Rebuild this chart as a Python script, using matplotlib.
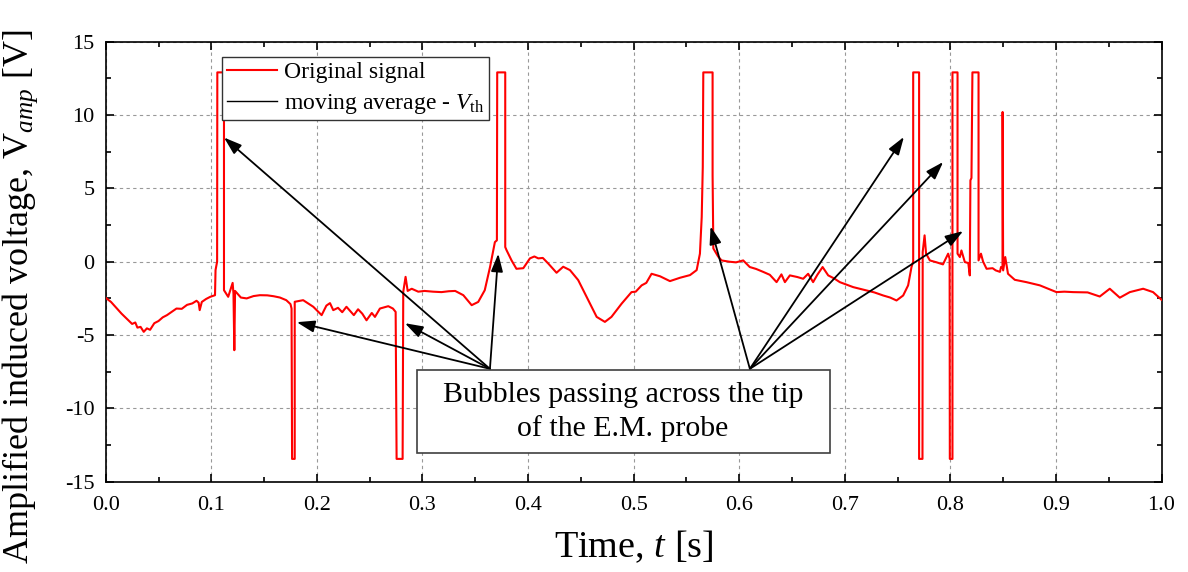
import matplotlib
matplotlib.use("Agg")
import matplotlib.pyplot as plt
from matplotlib.lines import Line2D
from matplotlib.patches import Rectangle
from matplotlib.ticker import MultipleLocator

plt.rcParams['font.family'] = ['Liberation Serif', 'DejaVu Serif']
plt.rcParams['mathtext.fontset'] = 'custom'
plt.rcParams['mathtext.rm'] = 'Liberation Serif'
plt.rcParams['mathtext.it'] = 'Liberation Serif:italic'
plt.rcParams['axes.unicode_minus'] = False

# probe signal, time [s] and amplified voltage [V]
t = [0.000, 0.005, 0.010, 0.015, 0.020, 0.025, 0.028, 0.030, 0.033, 0.036,
     0.039, 0.042, 0.046, 0.050, 0.054, 0.058, 0.062, 0.067, 0.072, 0.077,
     0.082, 0.086, 0.088, 0.089, 0.091, 0.095, 0.099, 0.1035, 0.1040, 0.1055,
     0.1057, 0.1120, 0.1120, 0.1160, 0.1202, 0.1210, 0.1218, 0.1225, 0.1280, 0.1335,
     0.1400, 0.1460, 0.1530, 0.1590, 0.1650, 0.1710, 0.1750, 0.1760, 0.1765, 0.1790,
     0.1790, 0.1870, 0.1966, 0.2045, 0.2090, 0.2124, 0.2155, 0.2200, 0.2240, 0.2280,
     0.2350, 0.2390, 0.2430, 0.2470, 0.2520, 0.2550, 0.2597, 0.2676, 0.2720, 0.2746,
     0.2750, 0.2755, 0.2812, 0.2818, 0.2840, 0.2860, 0.2898, 0.2960, 0.3020, 0.3100,
     0.3180, 0.3250, 0.3310, 0.3387, 0.3466, 0.3528, 0.3590, 0.3640, 0.3686, 0.3705,
     0.3708, 0.3784, 0.3784, 0.3797, 0.3844, 0.3890, 0.3955, 0.4018, 0.4060, 0.4097,
     0.4140, 0.4190, 0.4270, 0.4333, 0.4397, 0.4475, 0.4570, 0.4650, 0.4728, 0.4790,
     0.4886, 0.4980, 0.5020, 0.5076, 0.5120, 0.5170, 0.5250, 0.5344, 0.5440, 0.5534,
     0.5597, 0.5628, 0.5645, 0.5655, 0.5660, 0.5748, 0.5748, 0.5755, 0.5800, 0.5833,
     0.5910, 0.5970, 0.6038, 0.6100, 0.6160, 0.6227, 0.6290, 0.6354, 0.6400, 0.6433,
     0.6480, 0.6550, 0.6606, 0.6653, 0.6700, 0.6740, 0.6790, 0.6843, 0.6900, 0.6953,
     0.7080, 0.7206, 0.7280, 0.7364, 0.7430, 0.7490, 0.7553, 0.7600, 0.7632, 0.7648,
     0.7648, 0.7704, 0.7704, 0.7736, 0.7738, 0.7756, 0.7770, 0.7806, 0.7870, 0.7930,
     0.7979, 0.7993, 0.7995, 0.8020, 0.8020, 0.8068, 0.8068, 0.8090, 0.8105, 0.8137,
     0.8170, 0.8184, 0.8190, 0.8200, 0.8209, 0.8267, 0.8267, 0.8290, 0.8310, 0.8343,
     0.8400, 0.8430, 0.8470, 0.8480, 0.8494, 0.8495, 0.8500, 0.8520, 0.8546, 0.8610,
     0.8720, 0.8848, 0.8926, 0.9005, 0.9080, 0.9163, 0.9300, 0.9415, 0.9510, 0.9605,
     0.9700, 0.9826, 0.9920, 1.0000]
v = [-2.47, -2.75, -3.15, -3.55, -3.90, -4.25, -4.15, -4.50, -4.45, -4.79,
     -4.55, -4.65, -4.20, -4.05, -3.80, -3.65, -3.45, -3.20, -3.22, -2.95,
     -2.85, -2.67, -2.80, -3.31, -2.75, -2.55, -2.40, -2.29, -0.58, 0.00,
     12.9, 12.9, -1.95, -2.40, -1.45, -2.20, -6.04, -2.00, -2.45, -2.51,
     -2.35, -2.29, -2.30, -2.36, -2.45, -2.63, -2.90, -3.20, -13.45, -13.45,
     -2.74, -2.63, -3.08, -3.65, -3.00, -2.83, -3.31, -3.15, -3.45, -3.08,
     -3.65, -3.25, -3.55, -4.00, -3.50, -3.77, -3.20, -3.04, -3.20, -3.43,
     -8.10, -13.45, -13.45, -2.06, -1.04, -2.00, -1.85, -2.05, -2.00, -2.05,
     -2.08, -2.02, -2.00, -2.29, -2.97, -2.75, -1.95, -0.37, 1.33, 1.45,
     12.9, 12.9, 0.99, 0.77, 0.08, -0.49, -0.45, 0.22, 0.35, 0.22,
     0.25, -0.12, -0.76, -0.35, -0.58, -1.26, -2.63, -3.77, -4.11, -3.77,
     -2.87, -2.08, -2.05, -1.62, -1.45, -0.83, -1.00, -1.33, -1.10, -0.92,
     -0.58, 0.54, 3.04, 6.45, 12.9, 12.9, 5.88, 0.90, 0.35, 0.08,
     -0.01, -0.05, 0.08, -0.37, -0.50, -0.70, -0.90, -1.40, -0.87, -1.40,
     -0.94, -1.05, -1.17, -0.83, -1.40, -0.90, -0.37, -0.94, -1.15, -1.40,
     -1.74, -1.97, -2.10, -2.31, -2.45, -2.65, -2.31, -1.62, -0.37, 0.00,
     12.9, 12.9, -13.45, -13.45, 0.65, 1.79, 0.54, 0.08, -0.05, -0.19,
     0.54, 0.20, -13.45, -13.45, 12.9, 12.9, 0.54, 0.31, 0.76, -0.03,
     -0.10, -0.94, 5.54, 5.70, 12.9, 12.9, 0.08, 0.54, 0.00, -0.49,
     -0.45, -0.60, -0.70, -0.37, -0.45, 10.2, -0.60, 0.31, -0.83, -1.24,
     -1.40, -1.62, -1.85, -2.08, -2.05, -2.08, -2.10, -2.38, -1.85, -2.46,
     -2.08, -1.85, -2.08, -2.60]

# arrow tails (label box) and heads pointing at the bubble events
left_tail = (0.3639, -7.31)
left_heads = [(0.112, 8.46), (0.1809, -4.13), (0.2834, -4.2), (0.3718, 0.54)]
right_tail = (0.6101, -7.31)
right_heads = [(0.5729, 2.4), (0.756, 8.5), (0.7932, 6.79), (0.8121, 2.08)]

fig = plt.figure(figsize=(11.88, 5.72), dpi=100)
ax = fig.add_axes([0.089, 0.158, 0.8887, 0.7693])

ax.plot(t, v, color='red', lw=1.5, zorder=3)

ax.set_xlim(0, 1)
ax.set_ylim(-15, 15)
ax.xaxis.set_major_locator(MultipleLocator(0.1))
ax.xaxis.set_minor_locator(MultipleLocator(0.05))
ax.yaxis.set_major_locator(MultipleLocator(5))
ax.yaxis.set_minor_locator(MultipleLocator(2.5))
ax.xaxis.set_major_formatter(lambda x, pos: f'{x:.1f}')
ax.tick_params(which='both', direction='in', top=True, right=True, width=1.2)
ax.tick_params(which='major', length=6, labelsize=16)
ax.tick_params(axis='x', which='major', pad=10)
ax.tick_params(axis='y', which='major', pad=8)
ax.tick_params(which='minor', length=3.5)
for s in ax.spines.values():
    s.set_linewidth(1.2)
ax.grid(True, which='major', color='0.6', ls=(0, (3, 3)), lw=0.8)

ax.set_xlabel('Time, $\\mathit{t}$ [s]', fontsize=27.5, labelpad=10)
ax.set_ylabel('Amplified induced voltage, V$_{\\mathit{amp}}$ [V]', fontsize=26)
ax.yaxis.set_label_coords(-0.062, 0.42)

handles = [Line2D([], [], color='red', lw=1.5),
           Line2D([], [], color='black', lw=1.0)]
labels = ['Original signal', 'moving average - $\\mathit{V}_{\\mathrm{th}}$']
leg = ax.legend(handles, labels, loc='upper left', bbox_to_anchor=(0.1104, 0.966),
                borderaxespad=0, fontsize=17, fancybox=False, framealpha=1,
                edgecolor='0.2', handlelength=2.1, handletextpad=0.3,
                labelspacing=0.38, borderpad=0.2)
leg.get_frame().set_linewidth(1.0)

arrow = dict(arrowstyle='-|>,head_length=0.6,head_width=0.2', color='black',
             lw=1.3, mutation_scale=18, shrinkA=0, shrinkB=0)
for head in left_heads:
    ax.annotate('', xy=head, xytext=left_tail, arrowprops=arrow, zorder=4)
for head in right_heads:
    ax.annotate('', xy=head, xytext=right_tail, arrowprops=arrow, zorder=4)

box = Rectangle((0.2945, -13.07), 0.3915, 5.69, facecolor='white',
                edgecolor='0.25', lw=1.2, zorder=5)
ax.add_patch(box)
ax.text(0.49, -10.25, 'Bubbles passing across the tip\nof the E.M. probe',
        ha='center', va='center', fontsize=21.5, linespacing=1.35, zorder=6)

fig.savefig('out.png', dpi=100)
